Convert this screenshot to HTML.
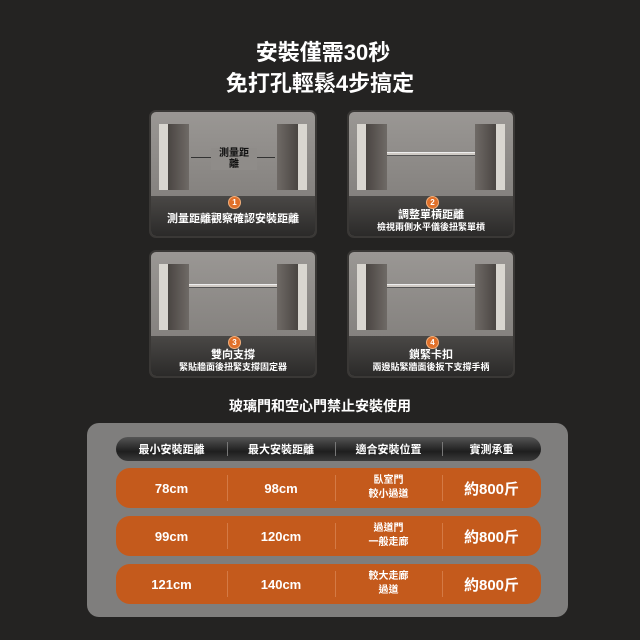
<!DOCTYPE html><html><head><meta charset="utf-8"><style>
*{margin:0;padding:0;box-sizing:border-box}
body{width:640px;height:640px;background:#242322;position:relative;overflow:hidden;font-family:"Liberation Sans","Noto Sans CJK TC",sans-serif;color:#fff;font-weight:bold}
.t{position:absolute;left:0;width:640px;text-align:center;white-space:nowrap}
.p{position:absolute;width:168px;height:128px;border-radius:7px;background:linear-gradient(#9a9794,#7b7875);border:2px solid #3a3836;overflow:hidden}
.wl,.wr{position:absolute;top:12px;width:30px;height:66px;background:linear-gradient(90deg,#d9d6d0 0 30%,#4a4542 30%,#6f6a66 100%)}
.wl{left:8px}.wr{right:8px;transform:scaleX(-1)}
.cap{position:absolute;left:0;right:0;bottom:0;height:40px;background:linear-gradient(#4a4846,#2b2a29);font-size:11px;text-align:center;line-height:12px;padding-top:13px}
.b{position:absolute;z-index:3;left:77px;top:84px;width:13px;height:13px;border-radius:7px;background:#e0702a;border:1px solid #f3b07c;font-size:8px;line-height:11px;text-align:center}
.bar{position:absolute;left:38px;right:38px;height:4px;background:#cfcac4;border-top:1px solid #eee;border-bottom:1px solid #555}
.row{position:absolute;left:116px;width:425px;height:40px;border-radius:14px;background:#c45a1c}
.c{position:absolute;top:0;height:100%;display:flex;align-items:center;justify-content:center;text-align:center}
.d{position:absolute;top:7px;bottom:7px;width:1px;background:#d47a45}
</style></head><body>
<div class="t" style="top:35px;font-size:22px;left:3px">安裝僅需30秒</div>
<div class="t" style="top:66px;font-size:22px">免打孔輕鬆4步搞定</div>

<div class="p" style="left:149px;top:110px"><div class="wl"></div><div class="wr"></div>
<div style="position:absolute;left:40px;right:40px;top:45px;height:1px;background:#333"></div>
<div style="position:absolute;left:60px;width:46px;top:36px;font-size:10px;line-height:11px;text-align:center;color:#111;background:#8f8c89">測量距<br>離</div>
<div class="cap" style="padding-top:17px">測量距離觀察確認安裝距離</div><div class="b">1</div></div>

<div class="p" style="left:347px;top:110px"><div class="wl"></div><div class="wr"></div><div class="bar" style="top:40px"></div>
<div class="cap">調整單槓距離<br><span style="font-size:9px">檢視兩側水平儀後扭緊單槓</span></div><div class="b">2</div></div>

<div class="p" style="left:149px;top:250px"><div class="wl"></div><div class="wr"></div><div class="bar" style="top:32px"></div>
<div class="cap">雙向支撐<br><span style="font-size:9px">緊貼牆面後扭緊支撐固定器</span></div><div class="b">3</div></div>

<div class="p" style="left:347px;top:250px"><div class="wl"></div><div class="wr"></div><div class="bar" style="top:32px"></div>
<div class="cap">鎖緊卡扣<br><span style="font-size:9px">兩邊貼緊牆面後扳下支撐手柄</span></div><div class="b">4</div></div>

<div class="t" style="top:396px;font-size:14px">玻璃門和空心門禁止安裝使用</div>

<div style="position:absolute;left:87px;top:423px;width:481px;height:194px;border-radius:12px;background:#7f7e7d"></div>
<div class="row" style="top:437px;height:24px;background:linear-gradient(#555,#1e1e1e 60%,#3a3a3a);font-size:11px">
<div class="c" style="left:0;width:111px">最小安裝距離</div><div class="c" style="left:111px;width:108px">最大安裝距離</div><div class="c" style="left:219px;width:107px">適合安裝位置</div><div class="c" style="left:326px;width:99px">實測承重</div>
<div class="d" style="left:111px;background:#777;top:5px;bottom:5px"></div><div class="d" style="left:219px;background:#777;top:5px;bottom:5px"></div><div class="d" style="left:326px;background:#777;top:5px;bottom:5px"></div></div>

<div class="row" style="top:468px"><div class="c" style="left:0;width:111px;font-size:13px">78cm</div><div class="c" style="left:111px;width:108px;font-size:13px">98cm</div><div class="c" style="left:219px;width:107px;font-size:10px;line-height:14px">臥室門<br>較小過道</div><div class="c" style="left:326px;width:99px;font-size:15px">約800斤</div><div class="d" style="left:111px"></div><div class="d" style="left:219px"></div><div class="d" style="left:326px"></div></div>
<div class="row" style="top:516px"><div class="c" style="left:0;width:111px;font-size:13px">99cm</div><div class="c" style="left:111px;width:108px;font-size:13px">120cm</div><div class="c" style="left:219px;width:107px;font-size:10px;line-height:14px">過道門<br>一般走廊</div><div class="c" style="left:326px;width:99px;font-size:15px">約800斤</div><div class="d" style="left:111px"></div><div class="d" style="left:219px"></div><div class="d" style="left:326px"></div></div>
<div class="row" style="top:564px"><div class="c" style="left:0;width:111px;font-size:13px">121cm</div><div class="c" style="left:111px;width:108px;font-size:13px">140cm</div><div class="c" style="left:219px;width:107px;font-size:10px;line-height:14px">較大走廊<br>過道</div><div class="c" style="left:326px;width:99px;font-size:15px">約800斤</div><div class="d" style="left:111px"></div><div class="d" style="left:219px"></div><div class="d" style="left:326px"></div></div>
</body></html>
